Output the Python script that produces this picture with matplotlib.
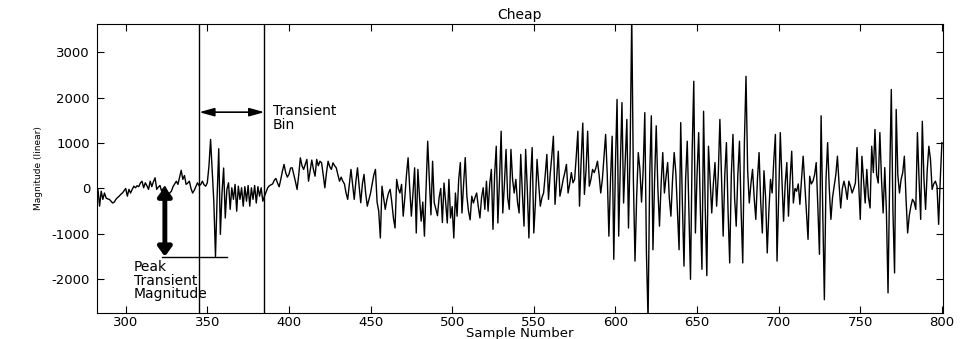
import numpy as np
import matplotlib
matplotlib.use('Agg')
from matplotlib import pyplot as plt

# sample window and the transient bin
first_sample = 282
bin_start = 345
bin_end = 385

# magnitude per sample, split up by stretch of the record
pre_bin = [
    -170, -20, -390, -60, -240, -100, -210, -230,                 # 282
    -240, -280, -320, -300, -240, -200, -170, -130, -100, -50,    # 290
    0, -170, -20, -100, -20, 50, 15, 60, 40, 120,                 # 300
    160, 15, 125, 60, -20, 160, 40, 150, 235, -20,                # 310
    30, 65, -60, 0, 40, -30, -130, -100, -60, 40,                 # 320
    100, 160, 90, 250, 400, 200, 285, 90, 120, 160,               # 330
    0, -100, -40, 40, 125,                                        # 340
]
in_bin = [
    60, 90, 160, 80, 50,                                          # 345
    125, 490, 1080, 400, -300, -1500, -200, 875, -1010, -100,     # 350
    450, -650, -20, 125, -460, 15, -240, 90, -500, 50,            # 360
    -240, 15, -390, 40, -280, 65, -390, 15, -240, 65,             # 370
    -320, 40, -170, 15, -280,                                     # 380
]
post_bin_a = [
    -170, -80, 15, 60, 80,                                        # 385
    100, 180, 220, 120, 37, 200, 380, 530, 350, 250,              # 390
    310, 450, 455, 300, 150, -22, 300, 675, 500, 420,             # 400
    530, 640, 160, 400, 625, 420, 270, 640, 500, 600,             # 410
    565, 300, 15, 350, 600, 480, 420, 565, 500, 455,              # 420
    300, 160, 250, 160, 100, -100, -240, 100, 420, 100,           # 430
    -240, 150, 455, 50, -315, 100, 310, -100, -390, -240,         # 440
    -100, 100, 300, 420, -300, -500, -1090, 50, -200, -460,       # 450
    -250, -100, -20, -300, -650, -870, 200, 0, -100, 90,          # 460
    -610, -200, 300, 675, 0, -610, -100, 455, -980, 420,          # 470
    -200, -720, -300, -1050, 0, 1040, 200, -580, 600, -315,       # 480
    -450, -600, -200, 0, -750, 120, -300, -760, 200, -650,        # 490
]
post_bin_b = [
    -400, -1090, -100, -610, 200, 570, -540, 100, 680, -170,      # 500
    -500, -690, -170, -320, -200, -100, -400, -650, -200, 15,     # 510
    -460, 160, -500, 100, 420, -900, 300, 930, -760, 200,         # 520
    1260, -540, 100, 860, -200, -460, 860, 200, -100, 200,        # 530
    -300, -540, 750, -100, -830, 860, 0, -1090, 200, 900,         # 540
    -980, -300, 640, 100, -390, -200, -100, 300, 750, -240,       # 550
    300, 700, 1150, -350, 200, 820, -170, 0, 200, 350,            # 560
    530, -100, 100, 350, 125, 200, 700, 1260, -390, 600,          # 570
    1440, -130, 400, 1260, 50, 200, 420, 350, 450, 600,           # 580
    300, -100, 200, 700, 1190, 300, -1050, 200, 1150, -1560,      # 590
]
post_bin_c = [
    500, 1960, -1050, 500, 1890, -320, 600, 1520, -870, 800,      # 600
    3800, 200, -1600, -200, 790, 420, -300, 400, 1670, -1420,     # 610
    -2900, 300, 1600, -1350, 200, 1380, 0, -830, 100, 790,        # 620
    -100, 250, 570, -200, -610, 200, 790, 350, -500, -1350,       # 630
    1450, -300, -1710, 200, 1040, -500, -2000, 800, 2360, -980,   # 640
    300, 1230, -400, -1780, 1700, -400, -1920, 930, 200, -540,    # 650
    100, 570, -390, 300, 1520, 200, -1050, 300, 1010, -500,       # 660
    -1640, 300, 1190, -200, -830, 300, 1040, -500, -1640, 1000,   # 670
    2470, 400, -320, 100, 420, -200, -680, 200, 790, -300,        # 680
    -980, 390, -200, -1420, -500, 200, -100, 600, 1190, -1600,    # 690
]
post_bin_d = [
    -200, 1230, 200, -720, 100, 570, -610, 200, 820, -320,        # 700
    0, -60, 100, -350, 200, 710, 100, -500, -1120, 270,           # 710
    100, 160, 300, 570, -400, -1450, 1600, -500, -2450, 200,      # 720
    1010, 0, -680, -200, 50, 300, 710, 100, -430, 0,              # 730
    160, 0, -240, 160, 50, -100, 0, 120, 900, 100,                # 740
    -680, 710, 200, -320, 420, -200, -430, 930, 350, 1300,        # 750
    300, 120, 1230, 200, -540, 460, -500, -2300, 200, 2180,       # 760
    -500, -1860, 1740, 300, -100, 200, 350, 710, -200, -980,      # 770
    -600, -390, -240, -300, -460, 1230, 200, -680, 1480, 200,     # 780
    -460, 400, 930, 640, -20, 100, 160, 50, -790, 200, 1010,      # 790
]

magnitude = np.array(pre_bin + in_bin + post_bin_a + post_bin_b + post_bin_c + post_bin_d)
samples = np.arange(first_sample, first_sample + magnitude.size)

plt.rcParams['axes.unicode_minus'] = False
plt.rcParams['font.family'] = ['DejaVu Sans']

fig = plt.figure(figsize=(9.6, 3.39), dpi=100)
ax = fig.add_axes([0.101, 0.077, 0.881, 0.852])
ax.plot(samples, magnitude, color='black', lw=1.0)

ax.set_xlim(282.4, 800.5)
ax.set_ylim(-2740, 3620)
ax.set_xticks(np.arange(300, 801, 50))
ax.set_yticks(np.arange(-2000, 3001, 1000))
ax.tick_params(direction='in', top=True, right=True, length=5, labelsize=9.5)
ax.tick_params(axis='x', pad=2)
ax.tick_params(axis='y', pad=5)
ax.set_title('Cheap', fontsize=10, pad=4)
ax.set_xlabel('Sample Number', fontsize=9.5, labelpad=-1)
ax.set_ylabel('Magnitude (linear)', fontsize=6.5,
              family=['Liberation Sans Narrow', 'DejaVu Sans'], labelpad=6)

# edges of the transient bin
ax.axvline(bin_start, color='black', lw=1)
ax.axvline(bin_end, color='black', lw=1)
ax.annotate('', xy=(bin_start, 1680), xytext=(bin_end, 1680),
            arrowprops=dict(arrowstyle='<|-|>,head_length=0.9,head_width=0.25',
                            color='black', lw=1.2, shrinkA=0, shrinkB=0))
ax.text(bin_end + 5, 1850, 'Transient\nBin', ha='left', va='top', fontsize=10, linespacing=0.95)

# largest dip inside the bin
in_window = (samples >= bin_start) & (samples <= bin_end)
peak = magnitude[in_window].min()
peak_at = samples[in_window][np.argmin(magnitude[in_window])]
ax.plot([322, peak_at + 7], [peak, peak], color='black', lw=1)
ax.annotate('', xy=(324, 40), xytext=(324, peak),
            arrowprops=dict(arrowstyle='<|-|>,head_length=0.55,head_width=0.4',
                            color='black', lw=3.5, shrinkA=0, shrinkB=0))
ax.text(305, peak - 80, 'Peak\nTransient\nMagnitude', ha='left', va='top', fontsize=10, linespacing=0.95)

fig.savefig('out.png', dpi=100)
